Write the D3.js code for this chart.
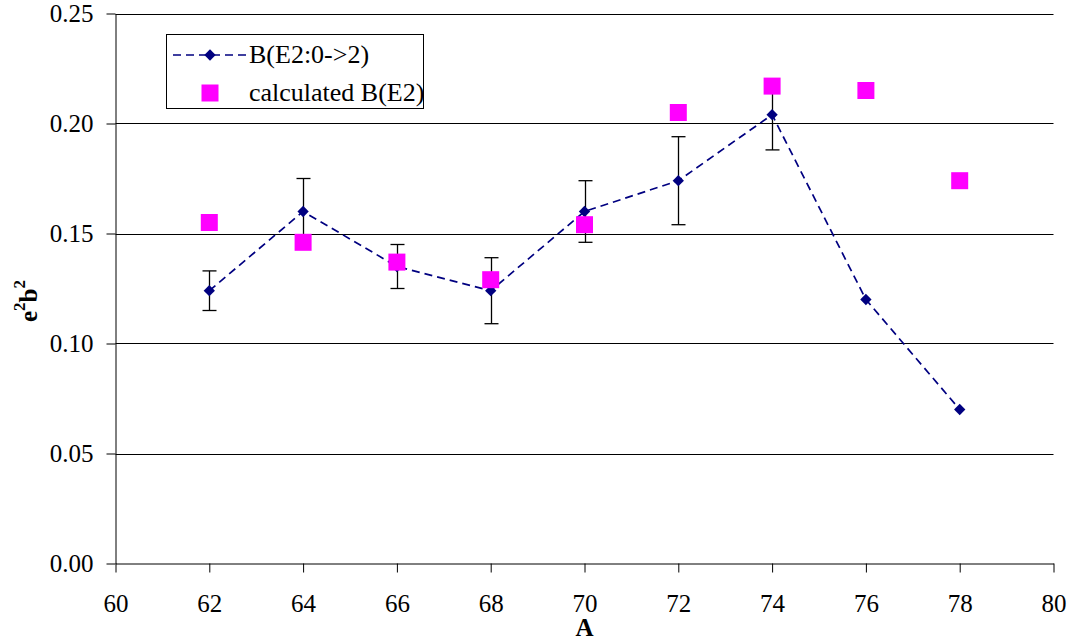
<!DOCTYPE html>
<html>
<head>
<meta charset="utf-8">
<script src="https://cdn.jsdelivr.net/npm/d3@7"></script>
</head>
<body style="margin:0;background:#fff">
<svg id="chart" width="1069" height="642" style="display:block"></svg>
<script>
// ---- data ----
const massNumbers = [62, 64, 66, 68, 70, 72, 74, 76, 78];
const measuredBE2 = [0.124, 0.160, 0.135, 0.124, 0.160, 0.174, 0.204, 0.120, 0.070];
const errorLow    = [0.115, 0.145, 0.125, 0.109, 0.146, 0.154, 0.188, null, null];
const errorHigh   = [0.133, 0.175, 0.145, 0.139, 0.174, 0.194, 0.220, null, null];
const calculatedBE2 = [0.155, 0.146, 0.137, 0.129, 0.154, 0.205, 0.217, 0.215, 0.174];
const xTicks = [60, 62, 64, 66, 68, 70, 72, 74, 76, 78, 80];
const yTicks = [0.00, 0.05, 0.10, 0.15, 0.20, 0.25];
const seriesNames = ["B(E2:0->2)", "calculated B(E2)"];

(function () {
const FONT = "Liberation Serif";
const svg = d3.select("#chart");
const pLeft = 115.5, pRight = 1053.5, pTop = 13.5, pBottom = 563.5;
const x = d3.scaleLinear().domain([60, 80]).range([pLeft, pRight]);
const y = d3.scaleLinear().domain([0, 0.25]).range([pBottom, pTop]);

const navy = "#000080", magenta = "#ff00ff";
const fontSize = 25;

// gridlines
svg.append("g").selectAll("line").data(yTicks.filter(d => d > 0)).join("line")
  .attr("x1", pLeft).attr("x2", pRight)
  .attr("y1", d => Math.round(y(d)) + 0.5).attr("y2", d => Math.round(y(d)) + 0.5)
  .attr("stroke", "#000").attr("stroke-width", 1);

// x axis
const xAxis = svg.append("g").attr("transform", `translate(0,${Math.round(pBottom) - 0.5})`)
  .call(d3.axisBottom(x).tickValues(xTicks).tickFormat(d3.format("d")).tickSizeOuter(0).tickSizeInner(9).tickPadding(22));
xAxis.select(".domain").attr("stroke", "#000");
xAxis.selectAll("text").attr("font-size", fontSize).attr("fill", "#000").attr("font-family", FONT);

// y axis
const yAxis = svg.append("g")
  .call(d3.axisLeft(y).tickValues(yTicks).tickFormat(d3.format(".2f")).tickSizeOuter(0).tickSizeInner(9).tickPadding(13));
yAxis.attr("transform", `translate(${pLeft},0)`);
yAxis.select(".domain").attr("stroke", "#000");
yAxis.selectAll("text").attr("font-size", fontSize).attr("fill", "#000").attr("font-family", FONT);

// axis titles
svg.append("text").attr("x", (pLeft + pRight) / 2).attr("y", 636)
  .attr("text-anchor", "middle").attr("font-weight", "bold").attr("font-size", fontSize)
  .attr("font-family", FONT).text("A");
const yt = svg.append("text")
  .attr("transform", `translate(37,${301}) rotate(-90)`)
  .attr("text-anchor", "middle").attr("font-weight", "bold").attr("font-size", fontSize)
  .attr("font-family", FONT);
yt.append("tspan").text("e");
yt.append("tspan").attr("dy", -12).attr("font-size", 17).text("2");
yt.append("tspan").attr("dy", 12).text("b");
yt.append("tspan").attr("dy", -12).attr("font-size", 17).text("2");

// measured line (dashed)
const pts = massNumbers.map((a, i) => ({a, v: measuredBE2[i], lo: errorLow[i], hi: errorHigh[i], c: calculatedBE2[i]}));
svg.append("path").datum(pts)
  .attr("fill", "none").attr("stroke", navy).attr("stroke-width", 1.7)
  .attr("stroke-dasharray", "8,5")
  .attr("d", d3.line().x(d => x(d.a)).y(d => y(d.v)));

// error bars
const eb = svg.append("g").attr("stroke", "#000").attr("stroke-width", 1.3);
pts.filter(d => d.lo != null).forEach(d => {
  const cx = Math.round(x(d.a)) + 0.5;
  eb.append("line").attr("x1", cx).attr("x2", cx).attr("y1", y(d.lo)).attr("y2", y(d.hi));
  eb.append("line").attr("x1", cx - 7).attr("x2", cx + 7).attr("y1", y(d.lo)).attr("y2", y(d.lo));
  eb.append("line").attr("x1", cx - 7).attr("x2", cx + 7).attr("y1", y(d.hi)).attr("y2", y(d.hi));
});

// diamonds
const diamond = d3.symbol().type(d3.symbolSquare).size(64);
svg.append("g").selectAll("path").data(pts).join("path")
  .attr("d", diamond)
  .attr("transform", d => `translate(${x(d.a)},${y(d.v)}) rotate(45)`)
  .attr("fill", navy);

// calculated squares
const sq = 17;
svg.append("g").selectAll("rect").data(pts).join("rect")
  .attr("x", d => x(d.a) - sq / 2).attr("y", d => y(d.c) - sq / 2)
  .attr("width", sq).attr("height", sq).attr("fill", magenta);

// legend
const lg = svg.append("g");
lg.append("rect").attr("x", 166.5).attr("y", 34.5).attr("width", 257).attr("height", 74)
  .attr("fill", "#fff").attr("stroke", "#000").attr("stroke-width", 1);
lg.append("line").attr("x1", 173).attr("x2", 247).attr("y1", 55).attr("y2", 55)
  .attr("stroke", navy).attr("stroke-width", 1.7).attr("stroke-dasharray", "8,5");
lg.append("path").attr("d", diamond).attr("transform", "translate(210,55) rotate(45)").attr("fill", navy);
lg.append("rect").attr("x", 210 - sq / 2).attr("y", 93 - sq / 2).attr("width", sq).attr("height", sq).attr("fill", magenta);
lg.append("text").attr("x", 249).attr("y", 63).attr("font-size", 26).attr("font-family", FONT).text(seriesNames[0]);
lg.append("text").attr("x", 249).attr("y", 101).attr("font-size", 26).attr("font-family", FONT).text(seriesNames[1]);
})();
</script>
</body>
</html>
